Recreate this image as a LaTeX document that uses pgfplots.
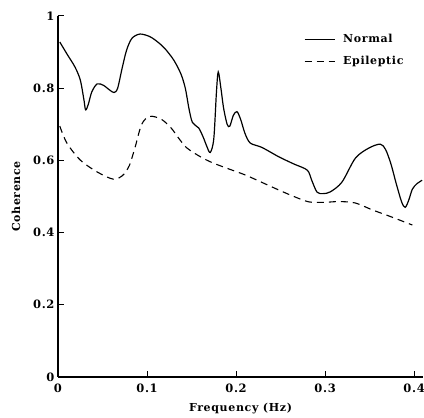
\documentclass[border=0pt]{standalone}
\usepackage{fontspec}
\setmainfont{DejaVu Serif}[LetterSpace=6]
\usepackage{pgfplots}
\pgfplotsset{compat=1.18}
\begin{document}
\begin{tikzpicture}
\useasboundingbox (-58pt,-41pt) rectangle (366pt,377pt);
\begin{axis}[
  scale only axis, width=365pt, height=361pt,
  xmin=0, xmax=0.41, ymin=0, ymax=1,
  axis lines=left,
  axis line style={line width=1.1pt, -},
  xtick={0,0.1,0.2,0.3,0.4}, ytick={0,0.2,0.4,0.6,0.8,1},
  tick align=inside,
  major tick length=6pt,
  tick style={black, line width=1pt},
  xticklabel style={/pgf/number format/fixed, /pgf/number format/precision=1, yshift=-3pt},
  yticklabel style={/pgf/number format/fixed, /pgf/number format/precision=1},
  /pgf/number format/assume math mode=true,
  tick label style={font=\fontsize{11.5}{13}\selectfont\bfseries},
  xlabel={Frequency (Hz)}, ylabel={Coherence},
  label style={font=\fontsize{11}{13}\selectfont\bfseries},
  xlabel style={yshift=-4pt},
  ylabel style={yshift=6pt},
  legend style={draw=none, fill=none, at={(0.665,0.96)}, anchor=north west,
    font=\fontsize{11}{13}\selectfont\bfseries, row sep=8pt, column sep=6pt},
  legend cell align=left,
  legend image code/.code={\draw[#1] (0pt,0pt) -- (30pt,0pt);},
]
\addplot[black, line width=1.2pt, smooth, tension=0.5] coordinates {
(0.002,0.928) (0.010,0.895) (0.019,0.859) (0.025,0.823) (0.029,0.77) (0.031,0.740)
(0.034,0.755) (0.038,0.790) (0.044,0.812) (0.051,0.808) (0.058,0.795) (0.063,0.788)
(0.067,0.80) (0.072,0.855) (0.077,0.905) (0.083,0.938) (0.092,0.950) (0.103,0.943)
(0.112,0.928) (0.120,0.910) (0.130,0.878) (0.138,0.840) (0.143,0.800) (0.147,0.745)
(0.151,0.705) (0.158,0.690) (0.163,0.665) (0.167,0.640) (0.171,0.622) (0.175,0.660)
(0.178,0.790) (0.180,0.845) (0.183,0.800) (0.186,0.745) (0.190,0.700) (0.193,0.695)
(0.197,0.725) (0.201,0.735) (0.205,0.715) (0.210,0.675) (0.216,0.648) (0.229,0.636)
(0.248,0.610) (0.265,0.590) (0.280,0.573) (0.285,0.545) (0.291,0.512) (0.298,0.508)
(0.306,0.513) (0.319,0.540) (0.334,0.606) (0.349,0.634) (0.362,0.645) (0.368,0.630)
(0.374,0.590) (0.380,0.535) (0.386,0.485) (0.390,0.470) (0.394,0.490) (0.398,0.520)
(0.403,0.535) (0.409,0.545)
};
\addlegendentry{Normal}
\addplot[black, line width=1.1pt, smooth, tension=0.5, dash pattern=on 7pt off 5pt] coordinates {
(0.002,0.695) (0.010,0.648) (0.025,0.601) (0.044,0.568) (0.062,0.548) (0.072,0.557)
(0.080,0.585) (0.087,0.640) (0.094,0.700) (0.103,0.722) (0.116,0.714) (0.127,0.690)
(0.136,0.660) (0.145,0.634) (0.160,0.610) (0.173,0.594) (0.190,0.578) (0.210,0.560)
(0.230,0.538) (0.248,0.518) (0.265,0.500) (0.282,0.485) (0.300,0.484) (0.316,0.486)
(0.334,0.482) (0.353,0.463) (0.375,0.443) (0.398,0.421)
};
\addlegendentry{Epileptic}
\end{axis}
\end{tikzpicture}
\end{document}
